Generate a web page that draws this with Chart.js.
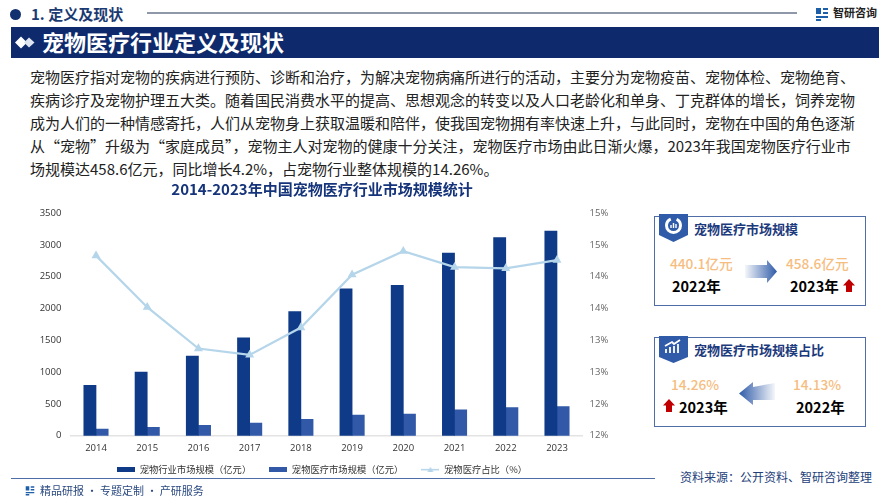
<!DOCTYPE html>
<html>
<head>
<meta charset="utf-8">
<script src="https://cdn.jsdelivr.net/npm/chart.js@4"></script>
<style>
  html, body { margin: 0; padding: 0; background: #fff; }
  body { width: 889px; height: 500px; position: relative; overflow: hidden; font-family: "Noto Sans CJK SC", sans-serif; }
  .t { position: absolute; white-space: nowrap; line-height: 1; }
  .box { position: absolute; border: 1px solid #4f6ea8; box-sizing: border-box; }
  .val { color: #f6bd80; font-size: 13.7px; font-weight: 500; }
  .yr { color: #000; font-size: 14.5px; font-weight: 700; }
  .head { color: #1c3a7c; font-size: 13px; font-weight: 700; }
  svg { position: absolute; overflow: visible; }
  #wrap { position: absolute; left: 0; top: 178px; width: 644px; height: 317px; }
</style>
</head>
<body>
<div style="position:absolute;left:10px;top:9px;width:11px;height:11px;border-radius:50%;background:#12306f"></div>
<div class="t" style="left:31px;top:6px;font-size:15px;font-weight:700;color:#1c3a72">1. 定义及现状</div>
<div style="position:absolute;left:147px;top:12px;width:650px;height:2px;background:#8f98a8"></div>
<svg style="left:815px;top:7px" width="14" height="14" viewBox="0 0 14 14">
  <path d="M1 1h5v6H1zM8 1h5v2H8zM8 5h5v2H8zM1 9h12v2H1zM1 12h5v2H1z" fill="#1c5fa8"/>
</svg>
<div class="t" style="left:833px;top:7px;font-size:11px;font-weight:700;color:#222">智研咨询</div>

<div style="position:absolute;left:11px;top:27px;width:868px;height:31px;background:#0e2a6c"></div>
<svg style="left:15px;top:36px" width="20" height="13" viewBox="0 0 20 13">
  <path d="M6 0.5L12 6.5L6 12.5L0 6.5Z" fill="#fff"/><path d="M14 1.5L19.5 6.5L14 11.5L9 6.5Z" fill="#dfe5f0"/>
</svg>
<div class="t" style="left:42px;top:30px;font-size:22px;font-weight:700;color:#fff">宠物医疗行业定义及现状</div>

<div id="para"></div>

<div id="wrap"><canvas id="marketChart" width="644" height="317"></canvas></div>

<div class="box" style="left:654px;top:216px;width:212px;height:90px"></div>
<svg style="left:659px;top:214px" width="29" height="29" viewBox="0 0 29 29">
  <path d="M0 0H29V21L14.5 28L0 21Z" fill="#2f5ba8"/>
  <circle cx="14.5" cy="11.5" r="7" fill="none" stroke="#fff" stroke-width="3" stroke-dasharray="30 6"/>
  <path d="M12 14v-3M14.5 14V9M17 14v-4" stroke="#fff" stroke-width="1.4"/>
</svg>
<div class="t head" style="left:694px;top:222px">宠物医疗市场规模</div>
<div class="t val" style="left:670px;top:257px">440.1亿元</div>
<div class="t yr" style="left:672px;top:279px">2022年</div>
<svg style="left:745px;top:260px" width="33" height="23" viewBox="0 0 33 23">
  <defs><linearGradient id="ga"><stop offset="0" stop-color="#2f5ba8" stop-opacity="0.05"/><stop offset="1" stop-color="#2f5ba8"/></linearGradient></defs>
  <path d="M0 5H22V0L32 11.5L22 23V18H0Z" fill="url(#ga)"/>
</svg>
<div class="t val" style="left:786px;top:257px">458.6亿元</div>
<div class="t yr" style="left:790px;top:279px">2023年</div>
<svg style="left:843px;top:279px" width="12" height="13" viewBox="0 0 12 13"><path d="M6 0L12 6.5H9V13H3V6.5H0Z" fill="#c00000"/></svg>

<div class="box" style="left:654px;top:337px;width:212px;height:90px"></div>
<svg style="left:659px;top:336px" width="29" height="28" viewBox="0 0 29 28">
  <path d="M0 0H29V21L14.5 27L0 21Z" fill="#2f5ba8"/>
  <path d="M7 17v-4M11 17v-6M15 17V10M19 17V8M6 10L13 6L15 8L21 4" stroke="#fff" stroke-width="1.8" fill="none"/>
</svg>
<div class="t head" style="left:694px;top:343px">宠物医疗市场规模占比</div>
<div class="t val" style="left:671px;top:378px">14.26%</div>
<svg style="left:663px;top:399px" width="12" height="13" viewBox="0 0 12 13"><path d="M6 0L12 6.5H9V13H3V6.5H0Z" fill="#c00000"/></svg>
<div class="t yr" style="left:679px;top:400px">2023年</div>
<svg style="left:739px;top:382px" width="36" height="23" viewBox="0 0 36 23">
  <defs><linearGradient id="gb" x1="1" x2="0"><stop offset="0" stop-color="#2f5ba8" stop-opacity="0.05"/><stop offset="1" stop-color="#2f5ba8"/></linearGradient></defs>
  <path d="M36 1L14 5V0L0 11.5L14 23V18H36Z" fill="url(#gb)"/>
</svg>
<div class="t val" style="left:793px;top:378px">14.13%</div>
<div class="t yr" style="left:796px;top:400px">2022年</div>

<div style="position:absolute;left:11px;top:478px;width:644px;height:1px;background:#4f6ea8"></div>
<div class="t" style="left:680px;top:471px;font-size:12px;color:#23407a">资料来源：公开资料、智研咨询整理</div>
<svg style="left:25px;top:485px" width="10" height="11" viewBox="0 0 14 14">
  <path d="M1 1h5v6H1zM8 1h5v2H8zM8 5h5v2H8zM1 9h12v2H1zM1 12h5v2H1z" fill="#1c5fa8"/>
</svg>
<div class="t" style="left:40px;top:485px;font-size:11px;color:#2b4a80">精品研报 · 专题定制 · 产研服务</div>

<script>
const paragraphLines = [
  "宠物医疗指对宠物的疾病进行预防、诊断和治疗，为解决宠物病痛所进行的活动，主要分为宠物疫苗、宠物体检、宠物绝育、",
  "疾病诊疗及宠物护理五大类。随着国民消费水平的提高、思想观念的转变以及人口老龄化和单身、丁克群体的增长，饲养宠物",
  "成为人们的一种情感寄托，人们从宠物身上获取温暖和陪伴，使我国宠物拥有率快速上升，与此同时，宠物在中国的角色逐渐",
  "从“宠物”升级为“家庭成员”，宠物主人对宠物的健康十分关注，宠物医疗市场由此日渐火爆，2023年我国宠物医疗行业市",
  "场规模达458.6亿元，同比增长4.2%，占宠物行业整体规模的14.26%。"
];
const years = ["2014", "2015", "2016", "2017", "2018", "2019", "2020", "2021", "2022", "2023"];
const petIndustry = [790, 1000, 1250, 1540, 1950, 2310, 2365, 2870, 3115, 3216];
const petMedical = [105, 130, 163, 197, 257, 325, 340, 406, 440.1, 458.6];
const medicalShare = [14.33, 13.52, 12.87, 12.77, 13.2, 14.03, 14.4, 14.15, 14.13, 14.26];

const para = document.getElementById('para');
paragraphLines.forEach((line, i) => {
  const d = document.createElement('div');
  d.className = 't';
  d.style.cssText = 'left:30px;top:' + (69 + i * 23) + 'px;font-size:15px;color:#222';
  d.textContent = line;
  para.appendChild(d);
});

// small legend swatches, the default box is too thick for the line series
function swatch(w, h, draw) {
  const c = document.createElement('canvas');
  c.width = w; c.height = h;
  draw(c.getContext('2d'));
  return c;
}
const colors = ['#0f3a87', '#3159a8', '#b5d5ea'];
const legendMarks = [
  swatch(18, 5, g => { g.fillStyle = colors[0]; g.fillRect(0, 0, 18, 5); }),
  swatch(18, 5, g => { g.fillStyle = colors[1]; g.fillRect(0, 0, 18, 5); }),
  swatch(18, 5, g => {
    g.fillStyle = colors[2];
    g.fillRect(0, 2, 18, 1.5);
    g.beginPath(); g.moveTo(9, 0); g.lineTo(12, 5); g.lineTo(6, 5); g.fill();
  })
];

// the legend's padding also sets the item gaps, so pull it up closer to the axis
const raiseLegend = {
  id: 'raiseLegend',
  afterLayout(chart) { chart.legend.top -= 11; }
};

const ctx = document.getElementById('marketChart').getContext('2d');
const tickFont = { family: '"Open Sans", "Noto Sans CJK SC"', size: 9.5 };

new Chart(ctx, {
  type: 'bar',
  plugins: [raiseLegend],
  data: {
    labels: years,
    datasets: [
      { label: '宠物行业市场规模（亿元）', data: petIndustry, backgroundColor: colors[0], barThickness: 12.2, yAxisID: 'y', order: 1 },
      { label: '宠物医疗市场规模（亿元）', data: petMedical, backgroundColor: colors[1], barThickness: 12.2, yAxisID: 'y', order: 1 },
      {
        type: 'line', label: '宠物医疗占比（%）', data: medicalShare, yAxisID: 'y1', order: 0,
        borderColor: colors[2], backgroundColor: colors[2], borderWidth: 2.2,
        pointStyle: 'triangle', pointRadius: 3, tension: 0
      }
    ]
  },
  options: {
    responsive: false,
    animation: false,
    plugins: {
      title: {
        display: true,
        text: '2014-2023年中国宠物医疗行业市场规模统计',
        color: '#16347a',
        font: { family: '"Noto Sans CJK SC"', size: 15, weight: 'bold' },
        padding: { top: 2, bottom: 15 }
      },
      legend: {
        position: 'bottom',
        labels: {
          usePointStyle: true,
          pointStyleWidth: 18,
          padding: 18,
          color: '#333',
          font: { family: '"Noto Sans CJK SC"', size: 9.3 },
          generateLabels: chart => chart.data.datasets.map((ds, i) => ({
            text: ds.label,
            datasetIndex: i,
            pointStyle: legendMarks[i],
            fontColor: '#333',
            lineWidth: 0
          }))
        }
      }
    },
    scales: {
      x: {
        grid: { display: false, drawTicks: false },
        border: { color: '#e3e3e3', width: 1.5 },
        ticks: { font: tickFont, color: '#333', padding: 7 },
        afterFit: s => { s.height = 22; }
      },
      y: {
        position: 'left', min: 0, max: 3500,
        grid: { display: false, drawTicks: false }, border: { display: false },
        ticks: { stepSize: 500, font: tickFont, color: '#333', padding: 9, callback: v => String(v) },
        afterFit: s => { s.width = 70.4; }
      },
      y1: {
        position: 'right', min: 11.5, max: 15,
        grid: { display: false, drawTicks: false }, border: { display: false },
        ticks: { stepSize: 0.5, font: tickFont, color: '#666', padding: 7, callback: v => v.toFixed(0) + '%' },
        afterFit: s => { s.width = 61.4; }
      }
    }
  }
});
</script>
</body>
</html>
